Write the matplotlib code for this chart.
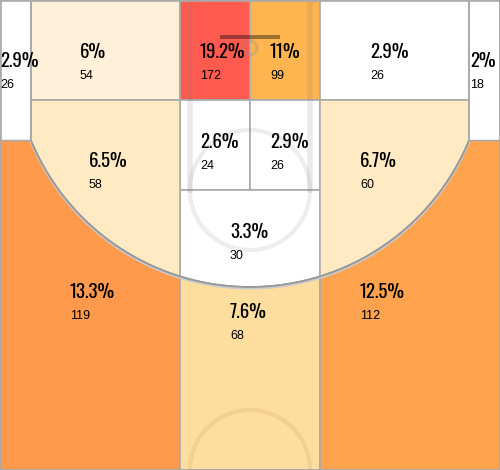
import matplotlib
matplotlib.use("Agg")
import matplotlib.pyplot as plt
import numpy as np
from matplotlib.patches import Polygon, Circle, Rectangle

# ゾーンごとのデータ
zones = ["corner_l", "corner_r", "base_l", "rim_l", "rim_r", "base_r",
         "paint_l", "paint_r", "ft", "wing_l", "wing_r",
         "three_l", "three_c", "three_r"]
pct = [2.9, 2.0, 6.0, 19.2, 11.0, 2.9, 2.6, 2.9, 3.3, 6.5, 6.7, 13.3, 7.6, 12.5]
counts = [26, 18, 54, 172, 99, 26, 24, 26, 30, 58, 60, 119, 68, 112]
colors = ["#ffffff", "#ffffff", "#fff0d9", "#ff5a50", "#ffb54f", "#ffffff",
          "#ffffff", "#ffffff", "#ffffff", "#ffeac4", "#ffeac4",
          "#ff9a4c", "#fdde9f", "#ffa34f"]

# コートの形 (ピクセル座標)
W, H = 500, 470
CX, CY, R = 250, 50, 237
XL, XR = 31, 469       # コーナー3Pライン
PL, PR = 180, 320      # ゾーン境界
Y1, Y2 = 100, 190

PCT_FONT = ["Oswald", "Roboto Condensed", "PT Sans Narrow", "DejaVu Sans"]
NUM_FONT = ["Liberation Sans", "Arimo", "DejaVu Sans"]


def arc_y(x):
    return CY + np.sqrt(R ** 2 - (x - CX) ** 2)


def arc(x0, x1, n=80):
    xs = np.linspace(x0, x1, n)
    return list(zip(xs, arc_y(xs)))


def rect(x0, y0, x1, y1):
    return [(x0, y0), (x1, y0), (x1, y1), (x0, y1)]


shapes = {
    "corner_l": rect(0, 0, XL, arc_y(XL)),
    "corner_r": rect(XR, 0, W, arc_y(XR)),
    "base_l": rect(XL, 0, PL, Y1),
    "rim_l": rect(PL, 0, CX, Y1),
    "rim_r": rect(CX, 0, PR, Y1),
    "base_r": rect(PR, 0, XR, Y1),
    "paint_l": rect(PL, Y1, CX, Y2),
    "paint_r": rect(CX, Y1, PR, Y2),
    "ft": [(PL, Y2), (PR, Y2)] + arc(PR, PL),
    "wing_l": [(XL, Y1), (PL, Y1)] + arc(PL, XL),
    "wing_r": [(PR, Y1), (XR, Y1)] + arc(XR, PR),
    "three_l": [(0, arc_y(XL))] + arc(XL, PL) + [(PL, H), (0, H)],
    "three_c": arc(PL, PR) + [(PR, H), (PL, H)],
    "three_r": arc(PR, XR) + [(W, arc_y(XR)), (W, H), (PR, H)],
}

# ラベル位置 (左端x, 中心y)
label_pos = {
    "corner_l": (0, 61), "corner_r": (470, 61), "base_l": (80, 52),
    "rim_l": (200, 52), "rim_r": (270, 52), "base_r": (370, 52),
    "paint_l": (200, 142), "paint_r": (270, 142), "ft": (230, 232),
    "wing_l": (89, 161), "wing_r": (360, 161),
    "three_l": (70, 292), "three_c": (230, 312), "three_r": (360, 292),
}

fig = plt.figure(figsize=(5, 4.7), dpi=100)
ax = fig.add_axes([0, 0, 1, 1])
ax.set_xlim(0, W)
ax.set_ylim(H, 0)
ax.axis("off")

for name, c in zip(zones, colors):
    ax.add_patch(Polygon(shapes[name], closed=True, facecolor=c,
                         edgecolor="#aaaaaa", linewidth=1.2, zorder=1))

# コートのライン
for x in (190, 310):
    ax.plot([x, x], [0, Y2], color="#777777", alpha=0.15, linewidth=4, zorder=2)
ax.add_patch(Circle((CX, Y2), 60, fill=False, edgecolor="#888888",
                    alpha=0.15, linewidth=3, zorder=2))
ax.add_patch(Circle((CX, H), 60, fill=False, edgecolor="#b08040",
                    alpha=0.15, linewidth=3, zorder=2))
ax.add_patch(Circle((CX, 48), 7, fill=False, edgecolor="#888888",
                    alpha=0.25, linewidth=2.5, zorder=2))
ax.add_patch(Rectangle((220, 35), 60, 4, facecolor="black", alpha=0.38,
                       linewidth=0, zorder=2))

# 3Pライン
a = np.array(arc(XL, XR, 200))
ax.plot(a[:, 0], a[:, 1] + 1.5, color="#cccccc", linewidth=1.5, zorder=3)
ax.plot(a[:, 0], a[:, 1], color="#999999", linewidth=1.3, zorder=3)
for x in (XL, XR):
    ax.plot([x, x], [0, arc_y(x)], color="#aaaaaa", linewidth=1.3, zorder=3)

# 外枠
ax.add_patch(Rectangle((0.5, 0.5), W - 1, H - 1, fill=False,
                       edgecolor="#aaaaaa", linewidth=1.2, zorder=4))

for name, p, n in zip(zones, pct, counts):
    x, y = label_pos[name]
    ax.text(x, y, f"{p:g}%", ha="left", va="center", fontsize=13.5,
            family=PCT_FONT, zorder=5)
    ax.text(x, y + 24, str(n), ha="left", va="center", fontsize=9,
            family=NUM_FONT, zorder=5)

fig.savefig("out.png", dpi=100)
